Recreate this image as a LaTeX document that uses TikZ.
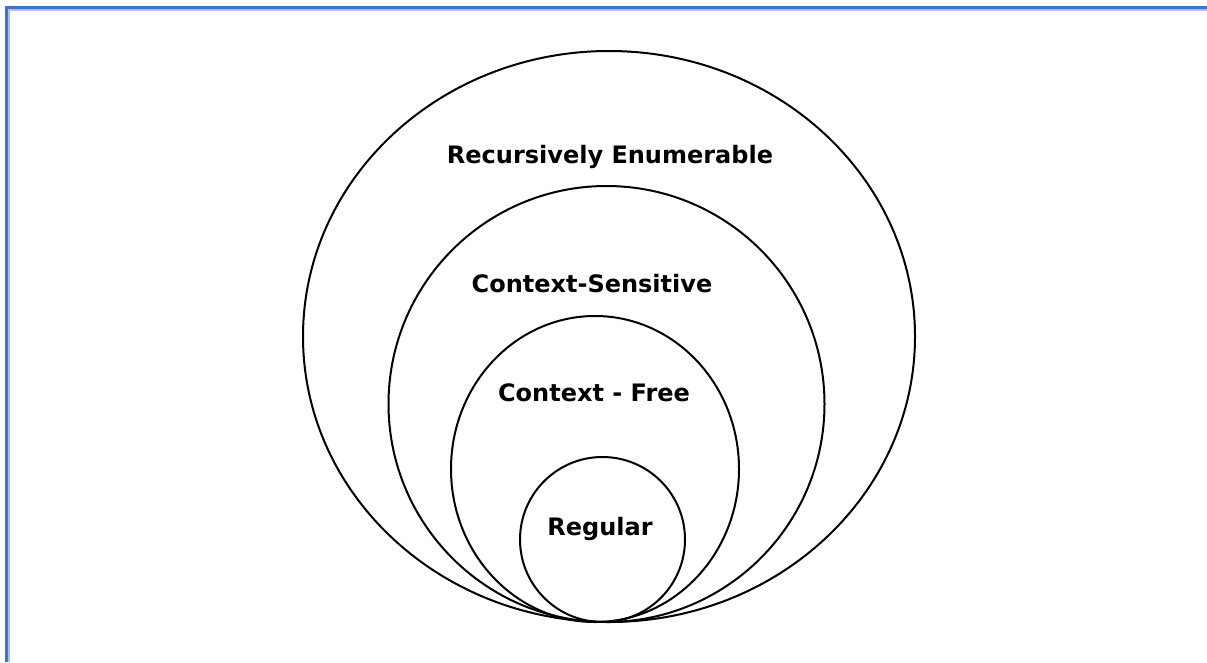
\documentclass[tikz,border=0pt]{standalone}
\usepackage{fontspec}
\setmainfont{DejaVu Sans}
\usepackage{tikz}
\definecolor{frameblue}{HTML}{4472C4}
\definecolor{framelight}{HTML}{A9C1EA}
\tikzset{
  ring/.style={draw=black,line width=2pt},
  classlabel/.style={font=\fontsize{24}{28}\selectfont\bfseries,inner sep=0pt}
}
\begin{document}
\begin{tikzpicture}[x=1pt,y=-1pt]
\useasboundingbox[fill=white] (0,0) rectangle (1207,662);
% Drawing frame
\draw[color=framelight,line width=1.2pt] (9,662) -- (9,10) -- (1207,10);
\draw[color=frameblue,line width=3pt] (6,662) -- (6,7) -- (1207,7);
% Done with frame; drawing rings
% Recursively enumerable
\draw[ring] (609,336.5) ellipse (306pt and 285.5pt);
% Context-sensitive
\draw[ring] (606.5,404) ellipse (218pt and 218pt);
% Context-free
\draw[ring] (595,469) ellipse (144pt and 153pt);
% Regular
\draw[ring] (602.5,539.5) ellipse (82.5pt and 82.5pt);
% Done with rings; drawing labels
\node[classlabel] (re) at (610,157) {Recursively Enumerable};
\node[classlabel] (cs) at (592,284) {Context-Sensitive};
\node[classlabel] (cf) at (594,393) {Context - Free};
\node[classlabel] (reg) at (600,529) {Regular};
% Done with labels
\end{tikzpicture}
\end{document}
